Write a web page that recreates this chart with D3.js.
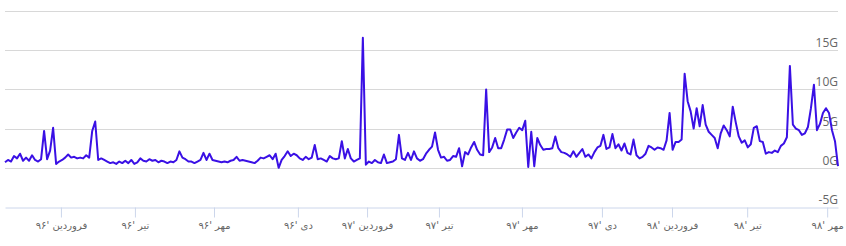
<!DOCTYPE html>
<html>
<head>
<meta charset="utf-8">
<script src="https://cdn.jsdelivr.net/npm/d3@7"></script>
<style>
  body { margin: 0; background: #fff; }
  svg { display: block; }
</style>
</head>
<body>
<div id="chart"></div>
<script>
var width = 846, height = 246;

// traffic values in G, one per sample (ordinal x axis)
var values = [
  0.7, 1.0, 0.8, 1.5, 1.2, 1.8, 0.9, 1.3, 0.9, 1.6,
  1.0, 0.8, 1.1, 4.7, 1.1, 2.2, 5.1, 0.5, 0.8, 1.0,
  1.3, 1.7, 1.3, 1.4, 1.2, 1.3, 1.2, 1.6, 1.3, 4.7,
  5.9, 1.0, 1.2, 1.0, 0.8, 0.6, 0.7, 0.5, 0.8, 0.6,
  0.9, 0.6, 1.0, 0.5, 0.7, 1.2, 0.9, 0.8, 1.1, 0.9,
  1.0, 0.7, 0.9, 0.8, 0.6, 0.8, 0.7, 1.0, 2.1, 1.3,
  1.1, 0.8, 0.8, 0.6, 0.8, 1.0, 1.9, 1.0, 1.8, 1.0,
  0.9, 0.8, 0.7, 0.8, 0.7, 0.9, 1.0, 1.4, 0.9, 1.0,
  0.9, 0.8, 0.7, 0.6, 0.9, 1.3, 1.2, 1.4, 1.6, 1.1,
  1.8, 0.0, 1.0, 1.5, 2.1, 1.5, 1.8, 1.6, 1.2, 1.0,
  1.4, 1.1, 1.3, 2.9, 1.1, 1.2, 1.0, 0.8, 1.5, 1.2,
  1.1, 1.2, 3.4, 1.2, 2.4, 1.2, 0.8, 1.0, 1.2, 16.6,
  0.4, 0.8, 0.6, 1.0, 0.7, 0.6, 1.7, 0.6, 0.7, 0.8,
  1.1, 4.2, 1.2, 1.0, 1.9, 1.0, 2.1, 1.2, 0.9, 1.1,
  1.8, 2.3, 2.7, 4.5, 2.3, 1.3, 1.4, 0.9, 1.0, 1.5,
  1.4, 2.5, 0.2, 2.0, 1.7, 2.6, 3.3, 2.3, 1.7, 1.6,
  10.0, 2.0, 2.6, 3.8, 2.5, 2.5, 3.6, 4.9, 4.9, 3.8,
  4.5, 5.1, 4.8, 6.0, 0.1, 4.6, 0.2, 3.8, 2.9, 2.3,
  2.4, 2.4, 2.5, 4.0, 2.5, 2.0, 1.9, 1.7, 1.4, 2.1,
  1.4, 1.9, 2.4, 1.4, 1.7, 1.2, 2.0, 2.6, 2.8, 4.2,
  2.4, 2.6, 4.3, 2.5, 3.0, 2.2, 3.1, 1.9, 1.7, 3.6,
  1.6, 1.2, 1.4, 1.8, 2.8, 2.6, 2.3, 2.6, 2.5, 2.3,
  3.5, 7.0, 2.3, 3.3, 3.3, 3.6, 12.0, 8.5, 7.2, 5.0,
  7.6, 5.3, 8.0, 5.5, 4.6, 4.2, 3.8, 2.5, 4.4, 5.4,
  4.8, 4.0, 7.8, 5.8, 4.0, 3.2, 3.5, 2.6, 3.0, 5.1,
  5.3, 3.4, 3.3, 1.8, 2.0, 1.9, 2.2, 2.0, 2.8, 3.1,
  3.9, 13.0, 5.5, 5.0, 4.8, 4.2, 4.4, 5.2, 7.6, 10.6,
  4.8, 5.6, 7.0, 7.6, 7.0, 4.8, 3.4, 0.2
];

// x axis: sample index where each Persian month starts
var tickIndex = [18.6, 43.2, 69.5, 97.4, 120.4, 144.3, 171.9, 198.5, 221.8, 246.8, 273.4];
var tickLabels = ["فروردین '۹۶", "تیر '۹۶", "مهر '۹۶", "دی '۹۶",
                  "فروردین '۹۷", "تیر '۹۷", "مهر '۹۷", "دی '۹۷",
                  "فروردین '۹۸", "تیر '۹۸", "مهر '۹۸"];

// y axis
var yTicks = [0, 5, 10, 15, 20];
var yLabelTicks = [-5, 0, 5, 10, 15];

var plotLeft = 5, plotRight = 838, plotTop = 11, plotBottom = 207;

var x = d3.scaleLinear()
  .domain([0, values.length - 1])
  .range([plotLeft, plotRight]);

var y = d3.scaleLinear()
  .domain([-5, 20])
  .range([plotBottom, plotTop]);

var svg = d3.select('#chart')
  .append('svg')
  .attr('width', width)
  .attr('height', height);

// grid
svg.append('g')
  .selectAll('line')
  .data(yTicks)
  .enter()
  .append('line')
  .attr('x1', plotLeft)
  .attr('x2', plotRight)
  .attr('y1', function(d) { return Math.round(y(d)) + 0.5; })
  .attr('y2', function(d) { return Math.round(y(d)) + 0.5; })
  .style('stroke', '#d8d8d8')
  .style('stroke-width', 1);

// x axis
var xAxis = d3.axisBottom(x)
  .tickValues(tickIndex)
  .tickFormat(function(d, i) { return tickLabels[i]; })
  .tickSizeInner(10)
  .tickSizeOuter(0)
  .tickPadding(4);

var gx = svg.append('g')
  .attr('transform', 'translate(0,' + (Math.round(y(-5)) + 0.5) + ')')
  .call(xAxis);
gx.select('.domain').style('stroke', '#ccd6eb');
gx.selectAll('.tick line').style('stroke', '#ccd6eb');
gx.selectAll('.tick text')
  .attr('direction', 'rtl')
  .style('font-family', '"DejaVu Sans", sans-serif')
  .style('font-size', '10px')
  .style('fill', '#666');

// y labels (right side, above the grid line)
svg.append('g')
  .selectAll('text')
  .data(yLabelTicks)
  .enter()
  .append('text')
  .attr('x', plotRight)
  .attr('y', function(d) { return y(d) - 3; })
  .attr('text-anchor', 'end')
  .style('font-family', '"Open Sans", "Lucida Grande", sans-serif')
  .style('font-size', '12px')
  .style('fill', '#666')
  .text(function(d) { return d + 'G'; });

// series
var line = d3.line()
  .x(function(d, i) { return x(i); })
  .y(function(d) { return y(d); });

svg.append('path')
  .datum(values)
  .attr('d', line)
  .style('fill', 'none')
  .style('stroke', '#3a10e5')
  .style('stroke-width', 2)
  .style('stroke-linejoin', 'round');
</script>
</body>
</html>
